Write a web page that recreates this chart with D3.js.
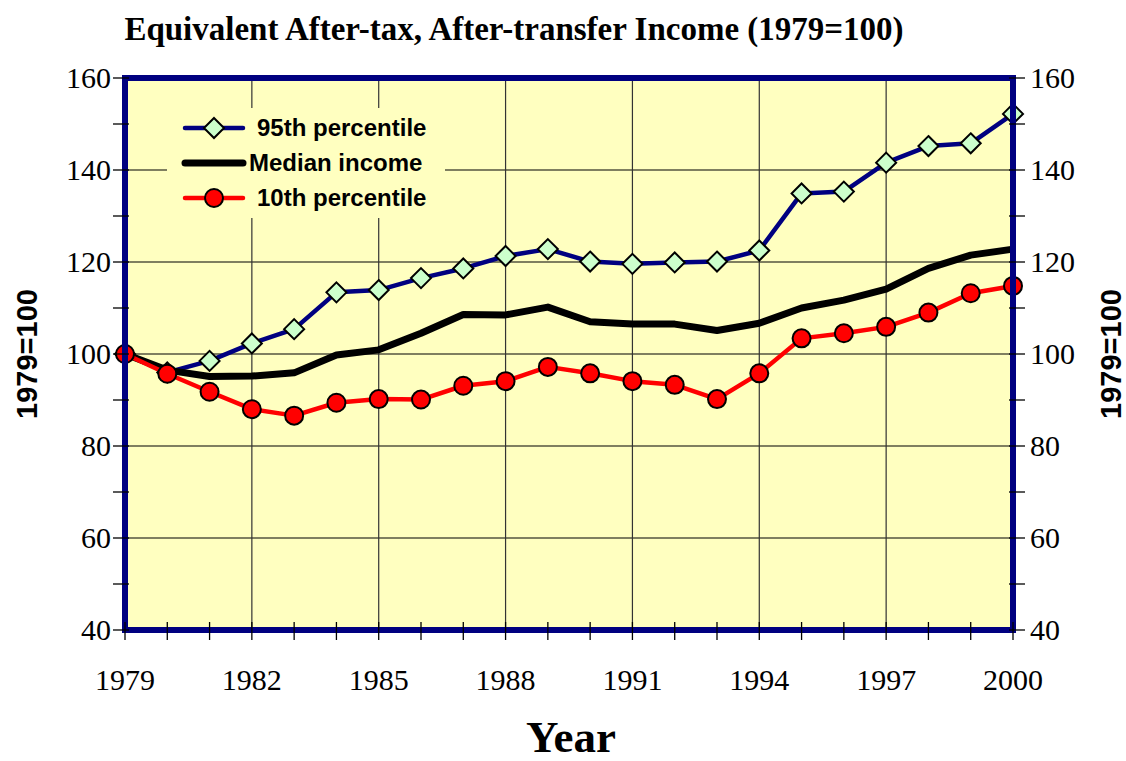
<!DOCTYPE html>
<html>
<head>
<meta charset="utf-8" />
<script src="https://d3js.org/d3.v7.min.js"></script>
<style>
  body { margin: 0; background: #fff; }
  text { fill: #000; }
  .tick-label { font-family: "Liberation Serif", "Times New Roman", serif; font-size: 30px; }
</style>
</head>
<body>
<script>
// data (index, 1979=100)
var years = d3.range(1979, 2001);
var p95 = [100, 96, 98.5, 102.3, 105.4, 113.4, 113.9, 116.5, 118.6, 121.3, 122.8,
           120.1, 119.6, 119.9, 120.1, 122.5, 134.9, 135.3, 141.6, 145.2, 145.8, 152.2];
var median = [100, 96.5, 95.1, 95.2, 95.9, 99.8, 100.9, 104.5, 108.6, 108.5, 110.2,
              107.0, 106.5, 106.5, 105.1, 106.7, 110.0, 111.7, 114.1, 118.6, 121.5, 122.8];
var p10 = [100, 95.7, 91.8, 88.0, 86.6, 89.4, 90.2, 90.1, 93.1, 94.1, 97.2,
           95.8, 94.1, 93.3, 90.2, 95.8, 103.4, 104.5, 105.9, 109.0, 113.2, 114.8];
var yTicks = [40, 60, 80, 100, 120, 140, 160];
var xTicks = [1979, 1982, 1985, 1988, 1991, 1994, 1997, 2000];
var legendNames = ["95th percentile", "Median income", "10th percentile"];

var W = 1126, H = 761;
var pLeft = 125, pRight = 1013, pTop = 78, pBottom = 630;

var svg = d3.select("body").append("svg")
    .attr("width", W).attr("height", H);

var x = d3.scaleLinear().domain([1979, 2000]).range([pLeft, pRight]);
var y = d3.scaleLinear().domain([40, 160]).range([pBottom, pTop]);

// plot background
svg.append("rect")
    .attr("x", pLeft).attr("y", pTop)
    .attr("width", pRight - pLeft).attr("height", pBottom - pTop)
    .attr("fill", "#FFFFC0");

// grid
svg.append("g").selectAll("line")
    .data(yTicks.slice(1, -1)).enter().append("line")
    .attr("x1", pLeft).attr("x2", pRight)
    .attr("y1", d => y(d)).attr("y2", d => y(d))
    .attr("stroke", "#000").attr("stroke-width", 1.2);
svg.append("g").selectAll("line")
    .data(xTicks.slice(1, -1)).enter().append("line")
    .attr("x1", d => x(d)).attr("x2", d => x(d))
    .attr("y1", pTop).attr("y2", pBottom)
    .attr("stroke", "#333").attr("stroke-width", 1.2);

// legend box (covers grid)
var lg = svg.append("g");
lg.append("rect")
    .attr("x", 167).attr("y", 108).attr("width", 278).attr("height", 110)
    .attr("fill", "#FFFFC0");

// series
var line = d3.line().x((d, i) => x(years[i])).y(d => y(d));

svg.append("path").datum(p95)
    .attr("d", line).attr("fill", "none")
    .attr("stroke", "#000080").attr("stroke-width", 4.5).attr("stroke-linejoin", "round");
svg.append("path").datum(median)
    .attr("d", line).attr("fill", "none")
    .attr("stroke", "#000").attr("stroke-width", 7).attr("stroke-linejoin", "round");
svg.append("path").datum(p10)
    .attr("d", line).attr("fill", "none")
    .attr("stroke", "#FF0000").attr("stroke-width", 4.5).attr("stroke-linejoin", "round");

function drawDiamond(g, cx, cy) {
  g.append("path")
      .attr("d", "M0,-10L10,0L0,10L-10,0Z")
      .attr("transform", "translate(" + cx + "," + cy + ")")
      .attr("fill", "#CCFFCC").attr("stroke", "#000").attr("stroke-width", 2);
}
function drawCircle(g, cx, cy) {
  g.append("circle").attr("cx", cx).attr("cy", cy).attr("r", 9)
      .attr("fill", "#FF0000").attr("stroke", "#000").attr("stroke-width", 2);
}

var mk95 = svg.append("g");
p95.forEach((d, i) => drawDiamond(mk95, x(years[i]), y(d)));
var mk10 = svg.append("g");
p10.forEach((d, i) => drawCircle(mk10, x(years[i]), y(d)));

// legend entries
var legY = [128, 163, 198];
var legColors = ["#000080", "#000", "#FF0000"];
var legWidths = [4.5, 7, 4.5];
legendNames.forEach(function(name, i) {
  lg.append("line")
      .attr("x1", 185).attr("x2", 243)
      .attr("y1", legY[i]).attr("y2", legY[i])
      .attr("stroke", legColors[i]).attr("stroke-width", legWidths[i])
      .attr("stroke-linecap", "round");
  if (i == 0) drawDiamond(lg, 214, legY[i]);
  if (i == 2) drawCircle(lg, 214, legY[i]);
  lg.append("text")
      .attr("x", i == 1 ? 249 : 257).attr("y", legY[i] + 8)
      .attr("font-family", "'Liberation Sans', Arial, sans-serif")
      .attr("font-weight", "bold").attr("font-size", "24px")
      .text(name);
});

// frame
svg.append("rect")
    .attr("x", pLeft).attr("y", pTop)
    .attr("width", pRight - pLeft).attr("height", pBottom - pTop)
    .attr("fill", "none").attr("stroke", "#000080").attr("stroke-width", 6);

// axis ticks
var minorY = d3.range(40, 161, 10);
var tk = svg.append("g").attr("stroke", "#000").attr("stroke-width", 1.3);
tk.selectAll("line.yl").data(minorY).enter().append("line").attr("class", "yl")
    .attr("x1", pLeft - 12).attr("x2", pLeft + 4)
    .attr("y1", d => y(d)).attr("y2", d => y(d));
tk.selectAll("line.yr").data(minorY).enter().append("line").attr("class", "yr")
    .attr("x1", pRight - 4).attr("x2", pRight + 12)
    .attr("y1", d => y(d)).attr("y2", d => y(d));
tk.selectAll("line.xt").data(years).enter().append("line").attr("class", "xt")
    .attr("x1", d => x(d)).attr("x2", d => x(d))
    .attr("y1", pBottom - 8).attr("y2", pBottom + 10);

// tick labels
svg.selectAll("text.yl").data(yTicks).enter().append("text")
    .attr("class", "tick-label yl")
    .attr("x", 111).attr("y", d => y(d) + 10)
    .attr("text-anchor", "end").text(d => d);
svg.selectAll("text.yr").data(yTicks).enter().append("text")
    .attr("class", "tick-label yr")
    .attr("x", 1030).attr("y", d => y(d) + 10)
    .attr("text-anchor", "start").text(d => d);
svg.selectAll("text.xl").data(xTicks).enter().append("text")
    .attr("class", "tick-label xl")
    .attr("x", d => x(d)).attr("y", 690)
    .attr("text-anchor", "middle").text(d => d);

// titles
svg.append("text")
    .attr("x", 514).attr("y", 40).attr("text-anchor", "middle")
    .attr("font-family", "'Liberation Serif', 'Times New Roman', serif")
    .attr("font-weight", "bold").attr("font-size", "33px")
    .text("Equivalent After-tax, After-transfer Income (1979=100)");
svg.append("text")
    .attr("x", 571).attr("y", 752).attr("text-anchor", "middle")
    .attr("font-family", "'Liberation Serif', 'Times New Roman', serif")
    .attr("font-weight", "bold").attr("font-size", "45px")
    .text("Year");
[37, 1121].forEach(function(px) {
  svg.append("text")
      .attr("transform", "translate(" + px + ",354) rotate(-90)")
      .attr("text-anchor", "middle")
      .attr("font-family", "'Liberation Sans', Arial, sans-serif")
      .attr("font-weight", "bold").attr("font-size", "29px")
      .text("1979=100");
});
</script>
</body>
</html>
